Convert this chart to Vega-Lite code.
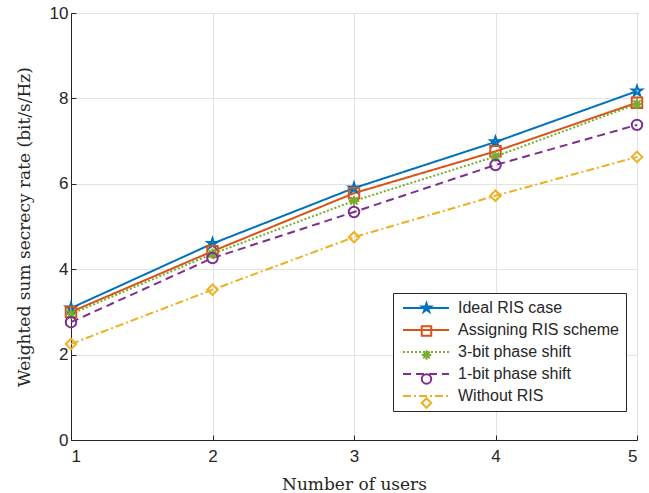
{
  "$schema": "https://vega.github.io/schema/vega-lite/v6.json",
  "width": 566,
  "height": 427,
  "autosize": "none",
  "padding": {"left": 71, "top": 13, "right": 12, "bottom": 53},
  "background": "white",
  "config": {
    "view": {"stroke": "#262626", "strokeWidth": 1},
    "axis": {
      "labelFont": "Liberation Sans",
      "labelFontSize": 17,
      "labelColor": "#262626",
      "titleFont": "DejaVu Serif",
      "titleFontSize": 17,
      "titleFontWeight": "normal",
      "titleColor": "#262626",
      "gridColor": "#e3e3e3",
      "domainColor": "#262626",
      "tickColor": "#262626",
      "tickSize": -5
    }
  },
  "data": {
    "values": [
      {"users": 1, "scheme": "Ideal RIS case", "marker": "Ideal RIS case", "rate": 3.09},
      {"users": 2, "scheme": "Ideal RIS case", "marker": "Ideal RIS case", "rate": 4.6},
      {"users": 3, "scheme": "Ideal RIS case", "marker": "Ideal RIS case", "rate": 5.9},
      {"users": 4, "scheme": "Ideal RIS case", "marker": "Ideal RIS case", "rate": 6.98},
      {"users": 5, "scheme": "Ideal RIS case", "marker": "Ideal RIS case", "rate": 8.17},
      {"users": 1, "scheme": "Assigning RIS scheme", "marker": "Assigning RIS scheme", "rate": 3.0},
      {"users": 2, "scheme": "Assigning RIS scheme", "marker": "Assigning RIS scheme", "rate": 4.42},
      {"users": 3, "scheme": "Assigning RIS scheme", "marker": "Assigning RIS scheme", "rate": 5.78},
      {"users": 4, "scheme": "Assigning RIS scheme", "marker": "Assigning RIS scheme", "rate": 6.76},
      {"users": 5, "scheme": "Assigning RIS scheme", "marker": "Assigning RIS scheme", "rate": 7.9},
      {"users": 1, "scheme": "3-bit phase shift", "marker": "3-bit phase shift", "rate": 2.95},
      {"users": 2, "scheme": "3-bit phase shift", "marker": "3-bit phase shift", "rate": 4.36},
      {"users": 3, "scheme": "3-bit phase shift", "marker": "3-bit phase shift", "rate": 5.6},
      {"users": 4, "scheme": "3-bit phase shift", "marker": "3-bit phase shift", "rate": 6.64},
      {"users": 5, "scheme": "3-bit phase shift", "marker": "3-bit phase shift", "rate": 7.87},
      {"users": 1, "scheme": "1-bit phase shift", "marker": "1-bit phase shift", "rate": 2.76},
      {"users": 2, "scheme": "1-bit phase shift", "marker": "1-bit phase shift", "rate": 4.26},
      {"users": 3, "scheme": "1-bit phase shift", "marker": "1-bit phase shift", "rate": 5.34},
      {"users": 4, "scheme": "1-bit phase shift", "marker": "1-bit phase shift", "rate": 6.44},
      {"users": 5, "scheme": "1-bit phase shift", "marker": "1-bit phase shift", "rate": 7.38},
      {"users": 1, "scheme": "Without RIS", "marker": "Without RIS", "rate": 2.25},
      {"users": 2, "scheme": "Without RIS", "marker": "Without RIS", "rate": 3.52},
      {"users": 3, "scheme": "Without RIS", "marker": "Without RIS", "rate": 4.75},
      {"users": 4, "scheme": "Without RIS", "marker": "Without RIS", "rate": 5.72},
      {"users": 5, "scheme": "Without RIS", "marker": "Without RIS", "rate": 6.63}
    ]
  },
  "encoding": {
    "x": {
      "field": "users", "type": "quantitative",
      "scale": {"domain": [1, 5], "nice": false},
      "axis": {"values": [1, 2, 3, 4, 5], "format": "d", "title": "Number of users", "labelPadding": 13, "titlePadding": 12}
    },
    "y": {
      "field": "rate", "type": "quantitative",
      "scale": {"domain": [0, 10], "nice": false},
      "axis": {"values": [0, 2, 4, 6, 8, 10], "title": "Weighted sum secrecy rate (bit/s/Hz)", "labelPadding": 8, "titlePadding": 16}
    },
    "color": {
      "field": "scheme", "type": "nominal",
      "scale": {
        "domain": ["Ideal RIS case", "Assigning RIS scheme", "3-bit phase shift", "1-bit phase shift", "Without RIS"],
        "range": ["#0072BD", "#D95319", "#77AC30", "#7E2F8E", "#EDB120"]
      },
      "legend": {
        "title": null,
        "orient": "none",
        "legendX": 322,
        "legendY": 280,
        "zindex": 1,
        "fillColor": "white",
        "strokeColor": "#262626",
        "padding": 7,
        "labelFont": "Liberation Sans",
        "labelFontSize": 16,
        "labelColor": "#262626",
        "symbolType": "M-4.6,0L4.6,0",
        "symbolSize": 100,
        "symbolStrokeWidth": 2,
        "symbolOffset": 18,
        "labelOffset": 24,
        "rowPadding": 6,
        "labelLimit": 300
      }
    }
  },
  "layer": [
    {
      "mark": {"type": "line", "strokeWidth": 2},
      "encoding": {
        "strokeDash": {
          "field": "scheme", "type": "nominal",
          "scale": {
            "domain": ["Ideal RIS case", "Assigning RIS scheme", "3-bit phase shift", "1-bit phase shift", "Without RIS"],
            "range": [[1, 0], [1, 0], [2, 2], [8, 5], [8, 3, 2, 3]]
          }
        }
      }
    },
    {
      "mark": {"type": "point", "filled": false, "strokeWidth": 2, "size": 110, "opacity": 1},
      "encoding": {
        "shape": {
          "field": "marker", "type": "nominal", "sort": null,
          "scale": {
            "range": [
              "M0,-1L0.2245,-0.309L0.951,-0.309L0.363,0.118L0.588,0.809L0,0.382L-0.588,0.809L-0.363,0.118L-0.951,-0.309L-0.2245,-0.309Z",
              "square",
              "M-1,0L1,0M0,-1L0,1M-0.7,-0.7L0.7,0.7M-0.7,0.7L0.7,-0.7",
              "circle",
              "diamond"
            ]
          },
          "legend": {
            "title": null,
            "orient": "none",
            "legendX": 322,
            "legendY": 280,
            "zindex": 2,
            "padding": 7,
            "labelFont": "Liberation Sans",
            "labelFontSize": 16,
            "labelColor": "transparent",
            "labelExpr": "' '",
            "symbolSize": 90,
            "symbolStrokeWidth": 2,
            "symbolStrokeColor": {"expr": "scale('color', datum.value)"},
            "symbolFillColor": "transparent",
            "symbolOffset": 18.5,
            "labelOffset": 0,
            "rowPadding": 6
          }
        }
      }
    }
  ]
}
